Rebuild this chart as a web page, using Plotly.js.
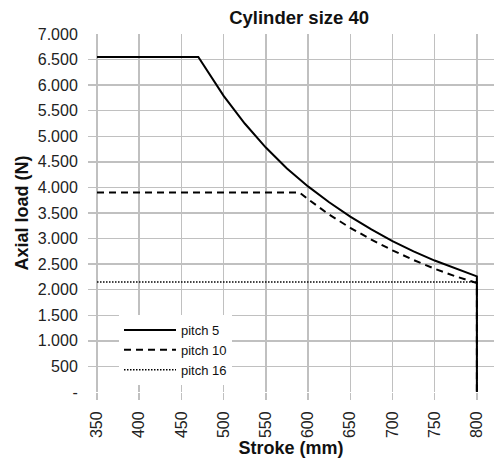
<!DOCTYPE html>
<html>
<head>
<meta charset="utf-8">
<script src="https://cdn.plot.ly/plotly-3.0.1.min.js"></script>
<style>html,body{margin:0;padding:0;overflow:hidden;background:#fff}</style>
</head>
<body>
<div id="chart" style="width:494px;height:461px"></div>
<script>
// Data
const pitch5X = [350, 470, 500, 525, 550, 575, 600, 625, 650, 675, 700, 725, 750, 775, 800, 800];
const pitch5Y = [6550, 6550, 5790, 5250, 4780, 4370, 4020, 3710, 3430, 3180, 2950, 2750, 2570, 2410, 2260, 0];
const pitch10X = [350, 590, 600, 625, 650, 675, 700, 725, 750, 775, 800, 800];
const pitch10Y = [3900, 3900, 3770, 3470, 3210, 2980, 2770, 2580, 2410, 2260, 2130, 0];
const pitch16X = [350, 800, 800];
const pitch16Y = [2150, 2150, 0];
const seriesNames = ["pitch 5", "pitch 10", "pitch 16"];
const xTickVals = [350, 400, 450, 500, 550, 600, 650, 700, 750, 800];
const yTickVals = [0, 500, 1000, 1500, 2000, 2500, 3000, 3500, 4000, 4500, 5000, 5500, 6000, 6500, 7000];
const yTickText = ["-", "500", "1.000", "1.500", "2.000", "2.500", "3.000", "3.500", "4.000", "4.500", "5.000", "5.500", "6.000", "6.500", "7.000"];

const traces = [
  {x: pitch5X, y: pitch5Y, name: seriesNames[0], mode: "lines", line: {color: "#000", width: 2, dash: "solid"}},
  {x: pitch10X, y: pitch10Y, name: seriesNames[1], mode: "lines", line: {color: "#000", width: 2, dash: "7px,5px"}},
  {x: pitch16X, y: pitch16Y, name: seriesNames[2], mode: "lines", line: {color: "#000", width: 1.5, dash: "1.5px,1.5px"}}
];

const font = "Liberation Sans, Arial, sans-serif";
const layout = {
  width: 494, height: 461,
  margin: {l: 88, r: 0, t: 34, b: 69},
  paper_bgcolor: "#fff", plot_bgcolor: "#fff",
  font: {family: font, color: "#222", size: 16},
  showlegend: true,
  title: {text: "<b>Cylinder size 40</b>", font: {family: font, size: 18.5, color: "#111"}, xref: "paper", x: 0.52, xanchor: "center", yref: "container", y: 0.961, yanchor: "middle"},
  xaxis: {
    range: [339.3, 820.3], tickvals: xTickVals, tickangle: -90,
    ticks: "outside", ticklen: 12, tickcolor: "rgba(0,0,0,0)",
    showgrid: true, gridcolor: "#c0c0c0", gridwidth: 1.5, zeroline: false, showline: false,
    tickfont: {size: 16, family: font, color: "#222"},
    title: {text: "<b>Stroke (mm)</b>", font: {size: 18, family: font, color: "#111"}, standoff: 0}
  },
  xaxis2: {
    overlaying: "x", matches: "x", anchor: "y", side: "bottom",
    tickvals: xTickVals, ticks: "outside", ticklen: 7, tickcolor: "#c0c0c0", tickwidth: 1.5,
    showticklabels: false, showgrid: false, zeroline: false, showline: false
  },
  yaxis: {
    range: [0, 7000], tickvals: yTickVals, ticktext: yTickText,
    ticks: "outside", ticklen: 6, tickcolor: "rgba(0,0,0,0)",
    showgrid: true, gridcolor: "#c0c0c0", gridwidth: 1.5, zeroline: false, showline: false,
    tickfont: {size: 16, family: font, color: "#222"},
    title: {text: "<b>Axial load (N)</b>", font: {size: 18, family: font, color: "#111"}, standoff: 4}
  },
  legend: {
    x: (119 - 88) / 406, y: (392 - 315) / 358, xanchor: "left", yanchor: "top",
    bgcolor: "#fff", borderwidth: 0, font: {size: 13, family: font, color: "#111"},
    itemwidth: 52, tracegroupgap: 0
  }
};
// invisible helper trace so the tick-mark axis is drawn
traces.push({x: [xTickVals[0]], y: [yTickVals[0]], xaxis: "x2", yaxis: "y", mode: "markers", marker: {opacity: 0}, showlegend: false, hoverinfo: "skip"});
Plotly.newPlot("chart", traces, layout, {displayModeBar: false, staticPlot: true});
</script>
</body>
</html>
